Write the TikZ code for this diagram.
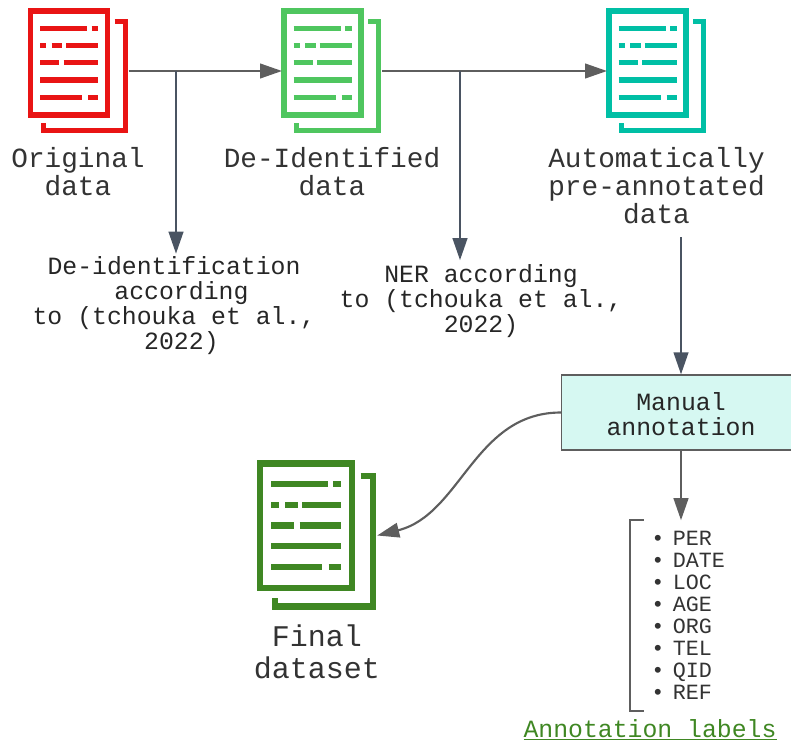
\documentclass[tikz,border=0pt]{standalone}
\usepackage{xcolor}
\usepackage{fontspec}
\setmainfont{Liberation Mono}
\usetikzlibrary{arrows.meta}

\definecolor{docred}{HTML}{E91414}
\definecolor{docgreen}{HTML}{4FC65F}
\definecolor{docteal}{HTML}{00BFA5}
\definecolor{docdark}{HTML}{3F8723}
\definecolor{txtgray}{HTML}{333333}
\definecolor{linegray}{HTML}{5E5E5E}
\definecolor{lineslate}{HTML}{4A5462}
\definecolor{boxfill}{HTML}{D6F8F2}

\newcommand{\labelitem}[1]{\hspace*{16pt}\textbullet\hspace{6.3pt}#1}

\tikzset{
    docbox/.style={minimum width=74.6pt, minimum height=93.8pt, inner sep=0pt},
    finalbox/.style={minimum width=89.5pt, minimum height=112.5pt, inner sep=0pt},
    bigtext/.style={align=center, text=txtgray, font=\fontsize{20.8}{21}\selectfont, inner sep=0pt},
    midtext/.style={align=center, text=black!85, font=\fontsize{18.6}{18.75}\selectfont, inner sep=0pt},
    grayline/.style={draw=linegray, line width=1.6pt, -{Triangle[length=16.5pt, width=11pt]}},
    slateline/.style={draw=lineslate, line width=1.6pt, -{Triangle[length=16.5pt, width=11pt]}},
    docicon/.pic={
        \draw[pic actions] (-48,-60) rectangle (29,44);
        \draw[pic actions] (36,-49.5) -- (46.7,-49.5) -- (46.7,59.2) -- (-35.2,59.2) -- (-35.2,51.7);
        \foreach \ya/\xa/\xb in {-42.7/-38.5/8.8, -42.7/13.2/19.8,
            -25.3/-38.5/-32.2, -25.3/-26.8/-16.2, -25.3/-12.5/19.8,
            -8.3/-38.5/-19.5, -8.3/-14.8/19.8,
            9/-38.5/19.8,
            26.3/-38.5/3.8, 26.3/9.5/19.8}
            \draw[pic actions] (\xa,\ya) -- (\xb,\ya);
    }
}

\begin{document}
\begin{tikzpicture}[x=0.75pt, y=-0.75pt]
    \useasboundingbox (0,0) rectangle (791,746);

    % Documents
    \node[docbox] (origdoc) at (78.5,71) {};
    \pic[draw=docred, line width=3.9pt] at (origdoc) {docicon};
    \node[docbox] (deiddoc) at (332,71) {};
    \pic[draw=docgreen, line width=3.9pt] at (deiddoc) {docicon};
    \node[docbox] (autodoc) at (657,71) {};
    \pic[draw=docteal, line width=3.9pt] at (autodoc) {docicon};
    \node[finalbox] (finaldoc) at (317.3,535.5) {};
    \pic[draw=docdark, line width=4.6pt, scale=1.2] at (finaldoc) {docicon};

    % Document captions
    \node[bigtext] (origtext) at (78,172) {Original\\data};
    \node[bigtext] (deidtext) at (332,172) {De-Identified\\data};
    \node[bigtext, inner ysep=9.75pt] (autotext) at (656.5,186) {Automatically\\pre-annotated\\data};
    \node[align=center, text=txtgray, font=\fontsize{22.5}{24}\selectfont, inner sep=0pt] (finaltext) at (317,652) {Final\\dataset};

    % Processing steps
    \node[midtext, inner ysep=2.25pt] (deidstep) at (174,306) {De-identification\\~according\\to (tchouka et al.,\\~2022)};
    \node[midtext, inner ysep=3pt] (nerstep) at (481,301) {NER according\\to (tchouka et al.,\\2022)};
    \node[midtext, draw=linegray, line width=1.2pt, fill=boxfill, minimum width=179pt, minimum height=56pt] (manual) at (681,412.5) {\rule{0pt}{16.5pt}Manual\\annotation};

    % Annotation labels
    \node[align=left, text width=76.5pt, minimum height=142.5pt, inner xsep=0pt, inner ysep=0pt, text=txtgray,
        font=\fontsize{16.3}{16.5}\selectfont] (labels) at (681,615.5) {\labelitem{PER}\\\labelitem{DATE}\\\labelitem{LOC}\\\labelitem{AGE}\\\labelitem{ORG}\\\labelitem{TEL}\\\labelitem{QID}\\\labelitem{REF}};
    \draw[draw=linegray, line width=1.8pt] ([xshift=10.5pt]labels.north west) -- (labels.north west) -- (labels.south west) -- ([xshift=10.5pt]labels.south west);
    \node[text=docdark, font=\fontsize{18.6}{19}\selectfont, inner sep=0pt] (labelname) at (650,730) {\underline{Annotation labels}};

    % Junctions
    \coordinate (branchdeid) at (176,71);
    \coordinate (branchner) at (460,71);

    % Connections
    \draw[grayline] (origdoc.east) -- (deiddoc.west);
    \draw[grayline] (deiddoc.east) -- (autodoc.west);
    \draw[slateline] (branchdeid) -- (branchdeid |- deidstep.north);
    \draw[slateline] (branchner) -- (branchner |- nerstep.north);
    \draw[slateline] (autotext.south -| manual.north) -- (manual.north);
    \draw[grayline] (manual.south) -- (labels.north);
    \draw[grayline] (manual.west) to[out=180, in=14] (finaldoc.east);
\end{tikzpicture}
\end{document}
